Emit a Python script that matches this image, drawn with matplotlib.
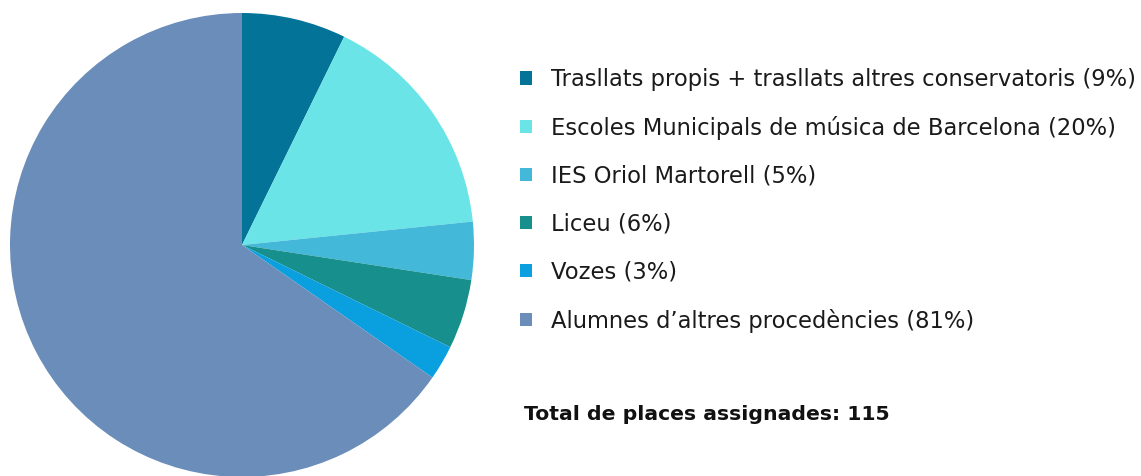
import matplotlib.pyplot as plt

# dades
categories = [
    "Trasllats propis + trasllats altres conservatoris",
    "Escoles Municipals de música de Barcelona",
    "IES Oriol Martorell",
    "Liceu",
    "Vozes",
    "Alumnes d\u2019altres procedències",
]
percentatges = [9, 20, 5, 6, 3, 81]
colors = ["#037498", "#6BE4E8", "#44B8D8", "#178F8C", "#0AA0E0", "#6A8DBA"]
total_places = 115

plt.rcParams['font.family'] = ['DejaVu Sans']

fig = plt.figure(figsize=(11.41, 4.76), dpi=100)

# pastís
ax = fig.add_axes([10 / 1141, -1 / 476, 464 / 1141, 464 / 476])
wedges, _ = ax.pie(percentatges, colors=colors, startangle=90, counterclock=False,
                   radius=1, wedgeprops=dict(linewidth=0))
ax.set_xlim(-1, 1)
ax.set_ylim(-1, 1)
ax.set_aspect('equal')
ax.axis('off')

# llegenda
labels = [f"{c} ({p}%)" for c, p in zip(categories, percentatges)]
fig.legend(wedges, labels, loc='upper left', bbox_to_anchor=(520 / 1141, 1 - 68 / 476),
           frameon=False, fontsize=16.3, handlelength=0.52, handleheight=0.52,
           handletextpad=0.85, labelspacing=1.10, borderaxespad=0, borderpad=0,
           labelcolor='#1a1a1a')

fig.text(524 / 1141, 1 - 414 / 476, f"Total de places assignades: {total_places}",
         fontsize=14.7, fontweight='bold', va='center', ha='left', color='#111111')

plt.savefig('out.png', dpi=100)
